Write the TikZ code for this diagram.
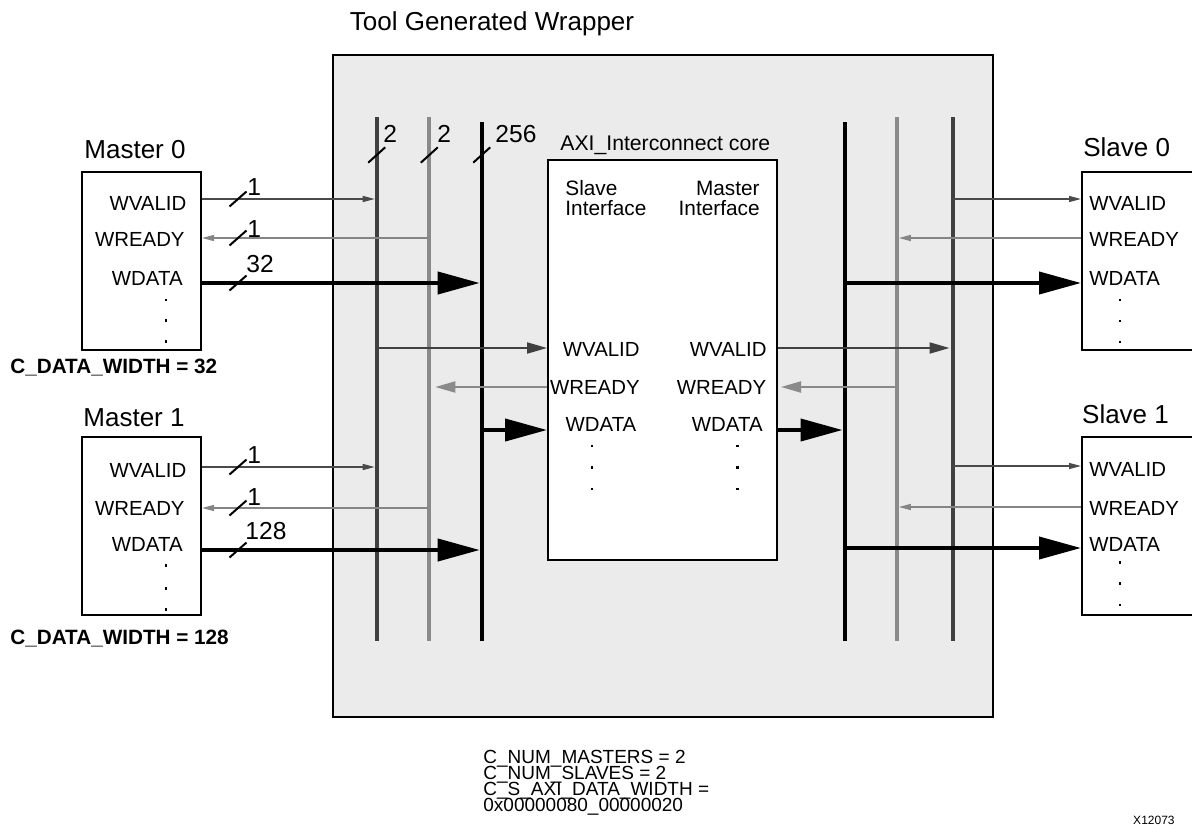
\documentclass[tikz,border=0pt]{standalone}
\usepackage{fontspec}
\setmainfont{Liberation Sans}
\usetikzlibrary{arrows.meta,fit,calc}
\definecolor{wrapgray}{HTML}{EBEBEB}
\definecolor{busdark}{HTML}{404040}
\definecolor{buslight}{HTML}{8A8A8A}
\definecolor{sigdark}{HTML}{4A4A4A}
\definecolor{siglight}{HTML}{858585}
\tikzset{
  box/.style={draw=black, line width=1pt, fill=white, inner sep=0pt},
  wrapbox/.style={draw=black, line width=1pt, fill=wrapgray, inner sep=0pt},
  sig/.style={font=\fontsize{10.2}{12}\selectfont, inner sep=0pt},
  sigR/.style={sig, anchor=base east},
  sigL/.style={sig, anchor=base west},
  ttl/.style={font=\fontsize{13}{15}\selectfont, inner sep=0pt, anchor=base},
  wlab/.style={font=\fontsize{12.3}{14}\selectfont, inner sep=0pt, anchor=base west},
  param/.style={font=\bfseries\fontsize{10.35}{12}\selectfont, inner sep=0pt, anchor=base west},
  note/.style={font=\fontsize{9.5}{11}\selectfont, inner sep=0pt, anchor=base west},
  busD/.style={draw=busdark, line width=2pt},
  busL/.style={draw=buslight, line width=2pt},
  busK/.style={draw=black, line width=2pt},
  thinD/.style={draw=sigdark, line width=0.65pt, -{Triangle[length=6pt,width=3pt]}},
  thinL/.style={draw=siglight, line width=0.65pt, -{Triangle[length=6pt,width=3pt]}},
  midD/.style={draw=busdark, line width=1pt, -{Triangle[length=10pt,width=5.5pt]}},
  midL/.style={draw=buslight, line width=1pt, -{Triangle[length=10pt,width=5.5pt]}},
  data/.style={draw=black, line width=2pt, -{Triangle[length=21pt,width=11pt]}},
  slash/.style={draw=black, line width=1pt},
  dotmark/.style={fill=black, inner sep=0pt, minimum size=1.35pt, rectangle}
}
\begin{document}
\begin{tikzpicture}[x=0.5pt,y=-0.5pt]
\useasboundingbox (0,0) rectangle (1192,835);
\clip (0,0) rectangle (1192,835);

% wrapper
\node[wrapbox, fit={(333,55) (993,717)}] (wrap) {};
\node[ttl] (wraptitle) at (492,30) {Tool Generated Wrapper};

% core
\node[box, fit={(548,160) (777,560)}] (core) {};
\node[sig, anchor=base west, font=\fontsize{10.6}{12}\selectfont] (coretitle) at (560,150.5) {AXI\_Interconnect core};
\node[sigL, font=\fontsize{10.4}{12}\selectfont] (si1) at (565,195) {Slave};
\node[sigL, font=\fontsize{10.4}{12}\selectfont] (si2) at (565,215) {Interface};
\node[sigR, font=\fontsize{10.4}{12}\selectfont] (mi1) at (760,195) {Master};
\node[sigR, font=\fontsize{10.4}{12}\selectfont] (mi2) at (760,215) {Interface};
\node[sigR] (cwv) at (640,356.7) {WVALID};
\node[sigR] (cwr) at (640,394) {WREADY};
\node[sigR] (cwd) at (636.7,431.7) {WDATA};
\node[sigR] (mwv) at (767,356.7) {WVALID};
\node[sigR] (mwr) at (766.7,394) {WREADY};
\node[sigR] (mwd) at (763,431.7) {WDATA};
\node[dotmark] (cd1) at (592,446) {};
\node[dotmark] (cd2) at (592,467.7) {};
\node[dotmark] (cd3) at (592,489) {};
\node[dotmark] (md1) at (737.3,446) {};
\node[dotmark] (md2) at (737.3,467.7) {};
\node[dotmark] (md3) at (737.3,489) {};

% masters
\node[box, fit={(82,172) (201,350)}] (m0) {};
\node[ttl] (m0t) at (135,158) {Master 0};
\node[sigR] (m0wv) at (186.7,210) {WVALID};
\node[sigR] (m0wr) at (185,246.7) {WREADY};
\node[sigR] (m0wd) at (183,285) {WDATA};
\node[dotmark] (m0d1) at (166,300) {};
\node[dotmark] (m0d2) at (166,320.7) {};
\node[dotmark] (m0d3) at (166,341.7) {};
\node[param] (m0p) at (10,373) {C\_DATA\_WIDTH = 32};

\node[box, fit={(82,437) (201,615)}] (m1) {};
\node[ttl] (m1t) at (134,426.7) {Master 1};
\node[sigR] (m1wv) at (186.7,477) {WVALID};
\node[sigR] (m1wr) at (185,515) {WREADY};
\node[sigR] (m1wd) at (183,551.7) {WDATA};
\node[dotmark] (m1d1) at (166,565.7) {};
\node[dotmark] (m1d2) at (166,588.3) {};
\node[dotmark] (m1d3) at (166,609.3) {};
\node[param] (m1p) at (10,644) {C\_DATA\_WIDTH = 128};

% slaves
\node[box, fit={(1082,172) (1230,350)}] (s0) {};
\node[ttl] (s0t) at (1126.7,156.7) {Slave 0};
\node[sigL] (s0wv) at (1089,210) {WVALID};
\node[sigL] (s0wr) at (1089,246.7) {WREADY};
\node[sigL] (s0wd) at (1089,285) {WDATA};
\node[dotmark] (s0d1) at (1120,300) {};
\node[dotmark] (s0d2) at (1120,321) {};
\node[dotmark] (s0d3) at (1120,342) {};

\node[box, fit={(1082,437) (1230,615)}] (s1) {};
\node[ttl] (s1t) at (1125.5,423.3) {Slave 1};
\node[sigL] (s1wv) at (1089,476.7) {WVALID};
\node[sigL] (s1wr) at (1089,515) {WREADY};
\node[sigL] (s1wd) at (1089,551.7) {WDATA};
\node[dotmark] (s1d1) at (1120,562.7) {};
\node[dotmark] (s1d2) at (1120,583.3) {};
\node[dotmark] (s1d3) at (1120,605) {};

% buses
\coordinate (b1t) at (376.7,117); \coordinate (b1b) at (376.7,641);
\coordinate (b2t) at (429.3,117); \coordinate (b2b) at (429.3,641);
\coordinate (b3t) at (481.7,122); \coordinate (b3b) at (481.7,641);
\coordinate (c1t) at (844.5,122); \coordinate (c1b) at (844.5,641);
\coordinate (c2t) at (896.8,117); \coordinate (c2b) at (896.8,641);
\coordinate (c3t) at (952.5,117); \coordinate (c3b) at (952.5,641);
\draw[busD] (b1t) -- (b1b);
\draw[busL] (b2t) -- (b2b);
\draw[busK] (b3t) -- (b3b);
\draw[busK] (c1t) -- (c1b);
\draw[busL] (c2t) -- (c2b);
\draw[busD] (c3t) -- (c3b);

% bus width marks
\draw[slash] (368.2,162.7) -- (385.2,147.3);
\draw[slash] (420.8,162.7) -- (437.8,147.3);
\draw[slash] (473.2,162.7) -- (490.2,147.3);
\node[wlab] (w1) at (383,142) {2};
\node[wlab] (w2) at (437,142) {2};
\node[wlab] (w3) at (495,142) {256};

% master 0 connectors
\draw[thinD, shorten >=1pt] (m0.east |- 0,199) -- (b1t |- 0,199);
\draw[thinL] (b2t |- 0,238) -- (m0.east |- 0,238);
\draw[data, shorten >=1pt] (m0.east |- 0,283) -- (b3t |- 0,283);
\draw[slash] (229.5,206.5) -- (246.5,191.5);
\draw[slash] (229.5,245.5) -- (246.5,230.5);
\draw[slash] (229.5,290.5) -- (246.5,275.5);
\node[wlab] (m0w1) at (247,195) {1};
\node[wlab] (m0w2) at (247,237) {1};
\node[wlab] (m0w3) at (246,272) {32};

% master 1 connectors
\draw[thinD, shorten >=1pt] (m1.east |- 0,467) -- (b1t |- 0,467);
\draw[thinL] (b2t |- 0,508) -- (m1.east |- 0,508);
\draw[data, shorten >=1pt] (m1.east |- 0,550) -- (b3t |- 0,550);
\draw[slash] (229.5,474.5) -- (246.5,459.5);
\draw[slash] (229.5,515.5) -- (246.5,500.5);
\draw[slash] (229.5,557.5) -- (246.5,542.5);
\node[wlab] (m1w1) at (247,463) {1};
\node[wlab] (m1w2) at (247,505) {1};
\node[wlab] (m1w3) at (245,539) {128};

% core left side
\draw[midD] (b1t |- 0,348) -- (core.west |- 0,348);
\draw[midL, shorten >=3pt] (core.west |- 0,387) -- (b2t |- 0,387);
\draw[data] (b3t |- 0,430) -- (core.west |- 0,430);

% core right side
\draw[midD, shorten >=1.5pt] (core.east |- 0,348) -- (c3t |- 0,348);
\draw[midL, shorten >=1.5pt] (c2t |- 0,387) -- (core.east |- 0,387);
\draw[data, shorten >=1pt] (core.east |- 0,430) -- (c1t |- 0,430);

% slave 0 connectors
\draw[thinD] (c3t |- 0,199) -- (s0.west |- 0,199);
\draw[thinL, shorten >=1pt] (s0.west |- 0,238) -- (c2t |- 0,238);
\draw[data] (c1t |- 0,283) -- (s0.west |- 0,283);

% slave 1 connectors
\draw[thinD] (c3t |- 0,466) -- (s1.west |- 0,466);
\draw[thinL, shorten >=1pt] (s1.west |- 0,507) -- (c2t |- 0,507);
\draw[data] (c1t |- 0,548) -- (s1.west |- 0,548);

% notes
\node[note] (n1) at (483,763) {C\_NUM\_MASTERS = 2};
\node[note] (n2) at (483,779) {C\_NUM\_SLAVES = 2};
\node[note] (n3) at (483,795) {C\_S\_AXI\_DATA\_WIDTH =};
\node[note] (n4) at (483,811) {0x00000080\_00000020};
\node[inner sep=0pt, anchor=base east, font=\fontsize{6}{7}\selectfont] (fig) at (1175,824) {X12073};
\end{tikzpicture}
\end{document}
